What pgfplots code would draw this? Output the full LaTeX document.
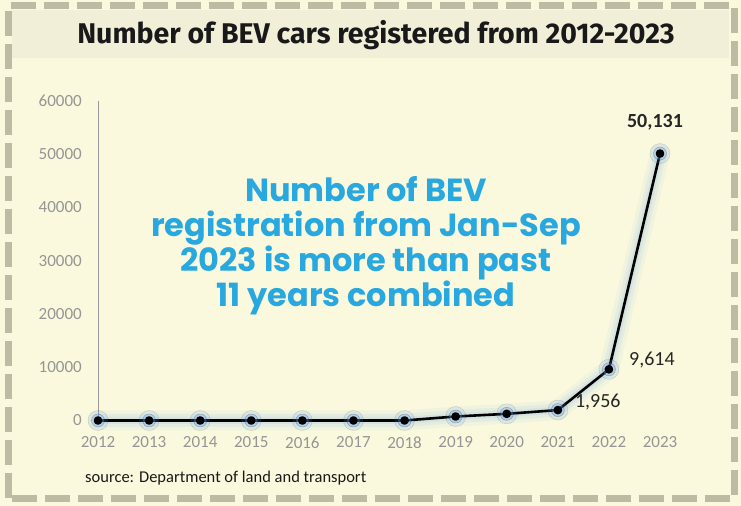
\documentclass[border=0pt]{standalone}
\usepackage{pgfplots}
\pgfplotsset{compat=1.18}
\usepackage{fontspec}
\setmainfont{Carlito}
\newfontfamily\poppins{Poppins}
\newfontfamily\fira{Fira Sans}
\definecolor{bg}{HTML}{FBF9DD}
\definecolor{band}{HTML}{F1EFD8}
\definecolor{border}{HTML}{BDBBA4}
\definecolor{bluetxt}{HTML}{29A8E0}
\definecolor{glow}{HTML}{6DA6F2}
\definecolor{tickgray}{HTML}{959595}
\pgfplotstableread{
x y
2012 0
2013 0
2014 0
2015 0
2016 0
2017 0
2018 0
2019 750
2020 1250
2021 1956
2022 9614
2023 50131
}\bev
\begin{document}
\begin{tikzpicture}[x=1bp,y=1bp]
\fill[bg] (0,0) rectangle (741,506);
\fill[band] (12,448) rectangle (729,496);
\draw[border, line width=7bp, dash pattern=on 25bp off 8bp] (8.5,7.5) rectangle (734.5,500.5);
\node[font=\fira\bfseries\fontsize{28.5bp}{32bp}\selectfont, text=black!90] at (376,471) {Number of BEV cars registered from 2012-2023};
\begin{axis}[
  at={(98bp,85.5bp)}, anchor=south west,
  scale only axis, width=562bp, height=319.5bp,
  xmin=2012, xmax=2023, ymin=0, ymax=60000,
  clip=false,
  axis lines=left,
  x axis line style={draw=none},
  y axis line style={draw=gray!80, line width=0.9bp, -},
  major tick length=0pt,
  xtick={2012,2013,...,2023},
  ytick={0,10000,...,60000},
  scaled y ticks=false,
  /pgf/number format/1000 sep={},
  /pgf/number format/assume math mode=true,
  ticklabel style={font=\fontsize{17bp}{19bp}\selectfont, text=tickgray, inner sep=0pt},
  yticklabel style={anchor=east, xshift=-16bp},
  xticklabel style={anchor=north, yshift=-16bp},
]
\addplot[glow, opacity=0.07, line width=20bp, line join=round, line cap=round] table {\bev};
\addplot[glow, opacity=0.09, line width=13bp, line join=round, line cap=round] table {\bev};
\addplot[glow, opacity=0.12, line width=7bp, line join=round, line cap=round] table {\bev};
\addplot[only marks, mark=*, mark size=10bp, mark options={fill=glow, draw=none, opacity=0.15}] table {\bev};
\addplot[only marks, mark=*, mark size=6.5bp, mark options={fill=glow, draw=none, opacity=0.3}] table {\bev};
\addplot[black, line width=2.6bp, line join=round, mark=*, mark size=3bp, mark options={fill=black}] table {\bev};
\node[font=\bfseries\fontsize{20bp}{22bp}\selectfont, text=black!85] at ([xshift=-5bp, yshift=31bp]axis cs:2023,50131) {50,131};
\node[font=\fontsize{20bp}{22bp}\selectfont, text=black!85] at ([xshift=43bp, yshift=9bp]axis cs:2022,9614) {9,614};
\node[font=\fontsize{20bp}{22bp}\selectfont, text=black!85] at ([xshift=40bp, yshift=8bp]axis cs:2021,1956) {1,956};
\end{axis}
\node[font=\poppins\bfseries\fontsize{32bp}{35bp}\selectfont, text=bluetxt, align=center] at (366,260) {Number of BEV\\registration from Jan-Sep\\2023 is more than past\\11 years combined};
\node[font=\fontsize{16.5bp}{18bp}\selectfont, text=black!90, anchor=west, inner sep=0pt] at (85,28) {source: Department of land and transport};
\end{tikzpicture}
\end{document}
